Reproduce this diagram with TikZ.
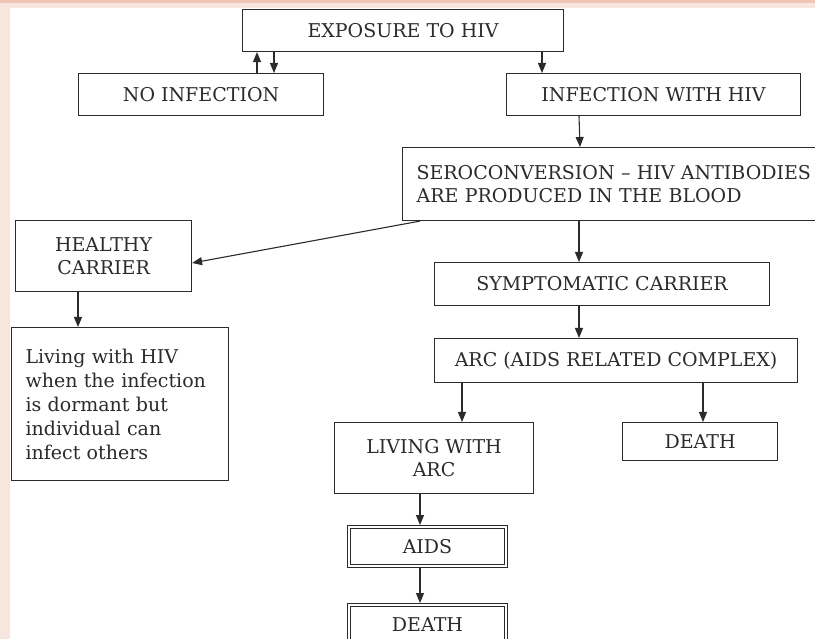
\documentclass[tikz,border=0pt]{standalone}
\usepackage{fontspec}
\setmainfont{DejaVu Serif}
\usepackage{tikz}
\usetikzlibrary{arrows.meta,positioning}
\usepackage{xcolor}
\definecolor{pagepink}{HTML}{F8E5DD}
\definecolor{edgepink}{HTML}{EDC6B6}
\definecolor{ink}{HTML}{2B2B2B}

\begin{document}
\begin{tikzpicture}[
    x=1pt, y=-1pt,
    box/.style={rectangle, draw=ink, line width=1.1pt, minimum height=42pt, align=center, anchor=north west, inner sep=0pt, text=ink, font=\fontsize{19}{23}\selectfont},
    endbox/.style={box, line width=1pt},
    arrow/.style={-{Triangle[length=10pt,width=8pt]}, line width=1.1pt, draw=ink}
]

% Page
\useasboundingbox (0,0) rectangle (815,639);
\clip (0,0) rectangle (815,639);
\fill[pagepink] (0,0) rectangle (815,639);
\fill[edgepink] (0,0) rectangle (815,3);
\fill[white] (10,8) rectangle (815,639);

% Nodes
\node[box, minimum width=321pt] (expo) at (242,9) {EXPOSURE TO HIV};
\node[box, minimum width=245pt] (noinf) at (78,73) {NO INFECTION};
\node[box, minimum width=294pt] (inf) at (506,73) {INFECTION WITH HIV};
\node[box, minimum height=73pt, text width=420pt, align=left, inner xsep=14pt] (sero) at (402,147) {SEROCONVERSION \textendash\ HIV ANTIBODIES\\ARE PRODUCED IN THE BLOOD};
\node[box, minimum width=176pt, minimum height=71pt] (healthy) at (15,220) {HEALTHY\\CARRIER};
\node[box, minimum width=217pt, minimum height=153pt, text width=189pt, align=left, inner xsep=14pt, font=\fontsize{19}{24}\selectfont] (living) at (11,327) {Living with HIV\\when the infection\\is dormant but\\individual can\\infect others};
\node[box, minimum width=335pt, minimum height=43pt] (symp) at (434,262) {SYMPTOMATIC CARRIER};
\node[box, minimum width=363pt, minimum height=44pt] (arc) at (434,338) {ARC (AIDS RELATED COMPLEX)};
\node[box, minimum width=199pt, minimum height=71pt] (livarc) at (334,422) {LIVING WITH\\ARC};
\node[box, minimum width=155pt, minimum height=38pt] (death) at (622,422) {DEATH};
\node[endbox, minimum width=160pt, minimum height=42pt] (aids) at (347,525) {AIDS};
\node[endbox, minimum width=160pt, minimum height=42pt, below=35pt of aids] (dead) {DEATH};

% inner lines of the double frames
\foreach \n in {aids,dead}
    \draw[ink, line width=1pt] ([shift={(3.5pt,-3.5pt)}]\n.north west) rectangle ([shift={(-3.5pt,3.5pt)}]\n.south east);

% Arrows
\draw[arrow] (noinf.north -| 257,0) -- (expo.south -| 257,0);
\draw[arrow] (expo.south -| 274,0) -- (noinf.north -| 274,0);
\draw[arrow] (expo.south -| 542,0) -- (inf.north -| 542,0);
\draw[arrow] (inf.south -| 579,0) -- (sero.north -| 580,0);
\draw[arrow] (sero.south -| 420,0) -- (healthy.east |- 0,263);
\draw[arrow] (healthy.south -| 78,0) -- (living.north -| 78,0);
\draw[arrow] (sero.south -| 579,0) -- (symp.north -| 579,0);
\draw[arrow] (symp.south -| 579,0) -- (arc.north -| 579,0);
\draw[arrow] (arc.south -| 462,0) -- (livarc.north -| 462,0);
\draw[arrow] (arc.south -| 703,0) -- (death.north -| 703,0);
\draw[arrow] (livarc.south -| 420,0) -- (aids.north -| 420,0);
\draw[arrow] (aids.south -| 420,0) -- (dead.north -| 420,0);

\end{tikzpicture}
\end{document}
